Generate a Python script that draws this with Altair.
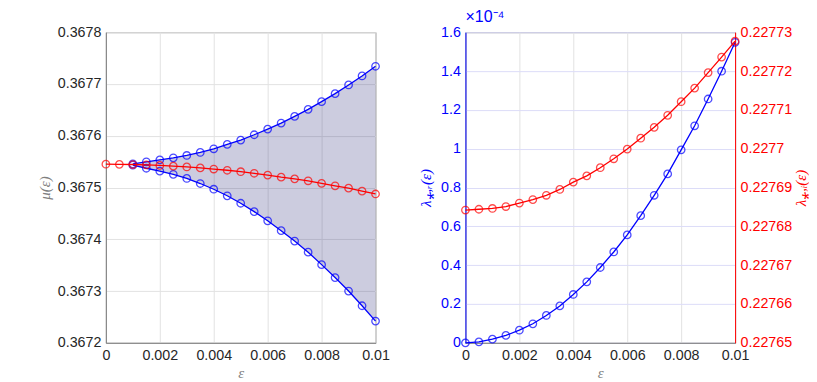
import altair as alt
import pandas as pd

# ---------------- data ----------------
eps = [0.0, 0.0005, 0.001, 0.0015, 0.002, 0.0025, 0.003, 0.0035, 0.004, 0.0045, 0.005,
       0.0055, 0.006, 0.0065, 0.007, 0.0075, 0.008, 0.0085, 0.009, 0.0095, 0.01]
mu_mid = [0.3675450, 0.3675448, 0.3675444, 0.3675437, 0.3675426, 0.3675413, 0.3675397,
          0.3675378, 0.3675357, 0.3675333, 0.3675305, 0.3675275, 0.3675240, 0.3675200,
          0.3675168, 0.3675130, 0.3675080, 0.3675033, 0.3674988, 0.3674930, 0.3674875]
eps_band = [0.001, 0.0015, 0.002, 0.0025, 0.003, 0.0035, 0.004, 0.0045, 0.005,
            0.0055, 0.006, 0.0065, 0.007, 0.0075, 0.008, 0.0085, 0.009, 0.0095, 0.01]
mu_upper = [0.3675458, 0.3675497, 0.3675535, 0.3675574, 0.3675619, 0.3675677, 0.3675748,
            0.3675832, 0.3675916, 0.3676019, 0.3676129, 0.3676245, 0.3676374, 0.3676510,
            0.3676658, 0.3676813, 0.3676981, 0.3677155, 0.3677342]
mu_lower = [0.3675431, 0.3675372, 0.3675316, 0.3675255, 0.3675175, 0.3675077, 0.3674967,
            0.3674840, 0.3674696, 0.3674534, 0.3674357, 0.3674166, 0.3673966, 0.3673751,
            0.3673510, 0.3673260, 0.3673000, 0.3672716, 0.3672420]
lam_r = [0.0, 0.005, 0.019, 0.038, 0.065, 0.098, 0.141, 0.190, 0.249, 0.314, 0.388,
         0.468, 0.556, 0.655, 0.760, 0.870, 0.994, 1.118, 1.256, 1.399, 1.548]
lam_i = [0.2276842, 0.2276844, 0.2276846, 0.2276851, 0.2276860, 0.2276869, 0.2276880,
         0.2276895, 0.2276914, 0.2276930, 0.2276951, 0.2276974, 0.2276999, 0.2277027,
         0.2277055, 0.2277086, 0.2277121, 0.2277156, 0.2277196, 0.2277236, 0.2277277]

x_ticks = [0, 0.002, 0.004, 0.006, 0.008, 0.01]
mu_ticks = [0.3672, 0.3673, 0.3674, 0.3675, 0.3676, 0.3677, 0.3678]
lr_ticks = [0, 0.2, 0.4, 0.6, 0.8, 1.0, 1.2, 1.4, 1.6]
li_ticks = [0.22765, 0.22766, 0.22767, 0.22768, 0.22769, 0.2277, 0.22771, 0.22772, 0.22773]

# ---------------- tables ----------------
mid_df = pd.DataFrame({"eps": eps, "mu": mu_mid})
band_df = pd.DataFrame({"eps": eps_band, "up": mu_upper, "lo": mu_lower})
blue_df = pd.concat([
    pd.DataFrame({"eps": eps_band, "mu": mu_upper, "branch": "upper"}),
    pd.DataFrame({"eps": eps_band, "mu": mu_lower, "branch": "lower"}),
])
lam_df = pd.DataFrame({"eps": eps, "lr": lam_r, "li": lam_i})

BLUE = "#0000ff"
RED = "#ff0000"
LAB = "Liberation Sans"
TIT = "Liberation Serif"
FS = 14.3
LW = 1.3
PS = 56

def x_enc():
    return alt.X("eps:Q", scale=alt.Scale(domain=[0, 0.01], nice=False),
                 axis=alt.Axis(values=x_ticks, format="~g", title="ε",
                               labelPadding=6, titlePadding=2))

# ---------------- left panel ----------------
mu_y = alt.Y("mu:Q", scale=alt.Scale(domain=[0.3672, 0.3678], nice=False, zero=False),
             axis=alt.Axis(values=mu_ticks, format=".4f", title="μ(ε)",
                           labelPadding=5, minExtent=48, maxExtent=48, titlePadding=5))

band = alt.Chart(band_df).mark_area(color="#333380", opacity=0.25).encode(
    x=x_enc(), y=alt.Y("up:Q", scale=alt.Scale(domain=[0.3672, 0.3678], nice=False, zero=False)),
    y2="lo:Q")
blue_line = alt.Chart(blue_df).mark_line(color=BLUE, strokeWidth=LW).encode(
    x=x_enc(), y=mu_y, detail="branch:N")
blue_pts = alt.Chart(blue_df).mark_point(shape="circle", filled=False, color=BLUE,
                                         size=PS, strokeWidth=LW).encode(x=x_enc(), y=mu_y)
red_line = alt.Chart(mid_df).mark_line(color=RED, strokeWidth=LW).encode(x=x_enc(), y=mu_y)
red_pts = alt.Chart(mid_df).mark_point(shape="circle", filled=False, color=RED,
                                       size=PS, strokeWidth=LW).encode(x=x_enc(), y=mu_y)

left = alt.layer(band, blue_line, blue_pts, red_line, red_pts).properties(width=270, height=311)

# ---------------- right panel ----------------
lr_y = alt.Y("lr:Q", scale=alt.Scale(domain=[0, 1.6], nice=False),
             axis=alt.Axis(values=lr_ticks, format="~g", title="λ⁎,ᵣ(ε)", orient="left",
                           labelColor=BLUE, domainColor=BLUE, titleColor=BLUE,
                           gridColor="#dcdcf8", labelPadding=5, minExtent=27, maxExtent=27,
                           titlePadding=5))
li_y = alt.Y("li:Q", scale=alt.Scale(domain=[0.22765, 0.22773], nice=False, zero=False),
             axis=alt.Axis(values=li_ticks, format="~g", title="λ⁎,ᵢ(ε)", orient="right",
                           labelColor=RED, domainColor=RED, titleColor=RED, grid=False,
                           labelPadding=5, minExtent=56, maxExtent=56, titlePadding=17,
                           titleAngle=270))

r_blue = alt.Chart(lam_df).mark_line(color=BLUE, strokeWidth=LW).encode(x=x_enc(), y=lr_y)
r_blue_p = alt.Chart(lam_df).mark_point(shape="circle", filled=False, color=BLUE,
                                        size=PS, strokeWidth=LW).encode(x=x_enc(), y=lr_y)
r_red = alt.Chart(lam_df).mark_line(color=RED, strokeWidth=LW).encode(x=x_enc(), y=li_y)
r_red_p = alt.Chart(lam_df).mark_point(shape="circle", filled=False, color=RED,
                                       size=PS, strokeWidth=LW).encode(x=x_enc(), y=li_y)

right = alt.layer(alt.layer(r_blue, r_blue_p), alt.layer(r_red, r_red_p)).resolve_scale(
    y="independent").properties(
    width=270, height=311,
    title=alt.TitleParams("×10⁻⁴", anchor="start", frame="group", color=BLUE,
                          fontSize=16, font=LAB, fontWeight="normal", offset=0))

chart = alt.hconcat(left, right, spacing=90, bounds="flush").properties(
    padding={"left": 29, "top": 0, "right": 0, "bottom": 0}
).configure(background="white").configure_view(
    stroke="#808080", strokeWidth=1
).configure_axis(
    labelFont=LAB, labelFontSize=FS, labelColor="#262626",
    titleFont=TIT, titleFontSize=15, titleFontStyle="italic", titleFontWeight="normal",
    titleColor="#808080", domainColor="#808080", gridColor="#e2e2e2", tickSize=0,
    labelFlush=False, labelOverlap=False
)

chart.save("out.html", embed_options={"renderer": "svg", "actions": False})
